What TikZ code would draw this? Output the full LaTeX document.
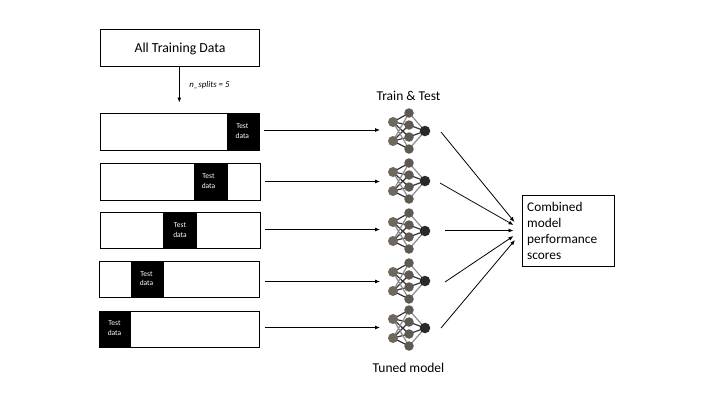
\documentclass[tikz,border=0pt]{standalone}
\usepackage{fontspec}
\setmainfont{Carlito}
\usetikzlibrary{arrows.meta}
\definecolor{netin}{HTML}{6F685F}
\definecolor{nethid}{HTML}{5E5A52}
\definecolor{netout}{HTML}{2A2927}
\tikzset{
  x=1pt,y=-1pt,
  box/.style={draw=black,line width=1pt,fill=white,inner sep=0pt,minimum width=0pt},
  testbox/.style={fill=black,draw=none,inner sep=0pt},
  testlbl/.style={text=white,inner sep=0pt,font=\fontsize{7.5}{9.5}\selectfont,align=center},
  conn/.style={draw=black,line width=0.8pt,-{Latex[length=5pt,width=4pt]}},
  lbl/.style={font=\fontsize{13.5}{15}\selectfont,inner sep=0pt},
  ninput/.style={circle,fill=netin,minimum size=10pt,inner sep=0pt},
  nhidden/.style={circle,fill=nethid,minimum size=9.5pt,inner sep=0pt},
  noutput/.style={circle,fill=netout,minimum size=10.5pt,inner sep=0pt},
  edged/.style={draw=black!80,line width=1.2pt},
  edgel/.style={draw=black!45,line width=1.2pt},
  pics/netw/.style={code={
    \node[coordinate] (-c) at (0,0) {};
    \draw[edged] (-15,-9)--(1,-18) (-15,-9)--(1,-6) (-15,-9)--(1,6)
                 (-15,10)--(1,-6) (-15,10)--(1,6) (-15,10)--(1,18);
    \draw[edgel] (-15,-9)--(1,18) (-15,10)--(1,-18);
    \draw[edgel] (1,-18)--(17,0) (1,18)--(17,0);
    \draw[edged] (1,-6)--(17,0) (1,6)--(17,0);
    \node[ninput] (-i1) at (-15,-9) {};
    \node[ninput] (-i2) at (-15,10) {};
    \node[nhidden] (-h1) at (1,-18) {};
    \node[nhidden] (-h2) at (1,-6) {};
    \node[nhidden] (-h3) at (1,6) {};
    \node[nhidden] (-h4) at (1,18) {};
    \node[noutput] (-o) at (17,0) {};
  }}
}
\begin{document}
\begin{tikzpicture}
\useasboundingbox (0,0) rectangle (720,405);
\fill[white] (0,0) rectangle (720,405);

% top box
\node[box,minimum width=159.5pt,minimum height=37pt] (all) at (179.8,47.5) {};
\node[inner sep=0pt,font=\fontsize{13.8}{15}\selectfont] (allt) at (180,48.5) {All Training Data};
\coordinate (splitend) at (179.3,102.5);
\draw[conn] (all.south -| splitend) -- (splitend);
\node[inner sep=0pt,font=\fontsize{8.8}{10}\selectfont\itshape] (nsplits) at (209.5,85.5) {n\_splits = 5};

% folds
\node[box,minimum width=159.5pt,minimum height=37pt] (f1) at (180.2,131.5) {};
\node[box,minimum width=159.5pt,minimum height=37pt] (f2) at (180.5,181.5) {};
\node[box,minimum width=159.5pt,minimum height=36pt] (f3) at (180.5,230) {};
\node[box,minimum width=159.5pt,minimum height=35.5pt] (f4) at (179.5,279.5) {};
\node[box,minimum width=159.5pt,minimum height=36pt] (f5) at (179.5,329) {};

\node[testbox,minimum width=33.5pt,minimum height=37.5pt] (t1) at (243.5,131.5) {};
\node[testbox,minimum width=34pt,minimum height=37pt] (t2) at (211,181.5) {};
\node[testbox,minimum width=34pt,minimum height=36pt] (t3) at (180,230) {};
\node[testbox,minimum width=33pt,minimum height=36pt] (t4) at (147.5,279.5) {};
\node[testbox,minimum width=32.5pt,minimum height=36.5pt] (t5) at (115.2,329) {};
\node[testlbl] (l1) at (242.3,131) {Test\\data};
\node[testlbl] (l2) at (208.5,181) {Test\\data};
\node[testlbl] (l3) at (180,230) {Test\\data};
\node[testlbl] (l4) at (146.5,278.5) {Test\\data};
\node[testlbl] (l5) at (114.5,328) {Test\\data};

% networks
\pic (n1) at (408,131) {netw};
\pic (n2) at (408,181) {netw};
\pic (n3) at (408,231) {netw};
\pic (n4) at (408,281) {netw};
\pic (n5) at (408,328) {netw};

% arrows fold to net
\coordinate (a1) at (380,130);
\coordinate (a2) at (380,181.5);
\coordinate (a3) at (380,229.5);
\coordinate (a4) at (380,281.5);
\coordinate (a5) at (380,327.5);
\draw[conn] ([xshift=4pt]f1.east |- a1) -- (a1);
\draw[conn] ([xshift=4pt]f2.east |- a2) -- (a2);
\draw[conn] ([xshift=4pt]f3.east |- a3) -- (a3);
\draw[conn] ([xshift=5pt]f4.east |- a4) -- (a4);
\draw[conn] ([xshift=5pt]f5.east |- a5) -- (a5);

% labels
\node[lbl] (tt) at (408.5,95.5) {Train \& Test};
\node[lbl] (tm) at (408.5,368) {Tuned model};

% combined box
\node[box,minimum width=92pt,minimum height=71pt] (comb) at (568,230.5) {};
\node[inner sep=0pt,anchor=west,align=left,font=\fontsize{13.3}{16}\selectfont] (combt) at (527,231) {Combined\\model\\performance\\scores};

% arrows net to combined
\coordinate (s1) at (441,132);
\coordinate (s2) at (440,183);
\coordinate (s3) at (445,230.5);
\coordinate (s4) at (445,282);
\coordinate (s5) at (441,328);
\coordinate (e1) at (514.5,222);
\coordinate (e2) at (513.5,225);
\coordinate (e3) at (513.5,230.5);
\coordinate (e4) at (513.5,236);
\coordinate (e5) at (515,240);
\draw[conn] (s1) -- (e1);
\draw[conn] (s2) -- (e2);
\draw[conn] (s3) -- (e3);
\draw[conn] (s4) -- (e4);
\draw[conn] (s5) -- (e5);
\end{tikzpicture}
\end{document}
